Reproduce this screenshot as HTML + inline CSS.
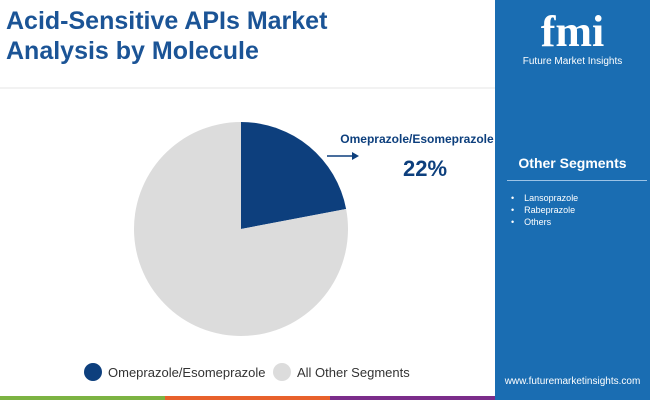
<!DOCTYPE html>
<html><head><meta charset="utf-8"><style>
body{margin:0;width:650px;height:400px;overflow:hidden;background:#fff;font-family:"Liberation Sans",sans-serif;position:relative}
.t{position:absolute;left:6px;top:6px;font-size:25px;font-weight:bold;color:#1b5496;line-height:30px}
.panel{position:absolute;left:495px;top:0;width:155px;height:400px;background:#1a6db2}
</style></head><body>
<div class="t">Acid-Sensitive APIs Market<br>Analysis by Molecule</div>
<svg width="650" height="400" style="position:absolute;left:0;top:0" id="c">
<line x1="0" y1="88" x2="495" y2="88" stroke="#e6e6e6"/>
<g id="pie"></g>
<text x="417" y="143" text-anchor="middle" font-size="12" font-weight="bold" fill="#0d3f7d">Omeprazole/Esomeprazole</text>
<text x="425" y="176" text-anchor="middle" font-size="22" font-weight="bold" fill="#0d3f7d" id="pct"></text>
<line x1="327" y1="156" x2="352" y2="156" stroke="#0d3f7d" stroke-width="1.5"/>
<path d="M352,152 L359,156 L352,160Z" fill="#0d3f7d"/>
<circle cx="93" cy="372" r="9" fill="#0d3f7d"/>
<text x="108" y="377" font-size="13" fill="#333">Omeprazole/Esomeprazole</text>
<circle cx="282" cy="372" r="9" fill="#dcdcdc"/>
<text x="297" y="377" font-size="13" fill="#333">All Other Segments</text>
<rect x="0" y="396" width="165" height="4" fill="#7cb342"/>
<rect x="165" y="396" width="165" height="4" fill="#e8612c"/>
<rect x="330" y="396" width="165" height="4" fill="#7b2d8a"/>
</svg>
<div class="panel">
<div style="position:absolute;top:8px;width:155px;text-align:center;color:#fff;font-size:44px;font-weight:bold;font-family:'Liberation Serif',serif;line-height:48px">fmi</div>
<div style="position:absolute;top:56px;width:155px;text-align:center;color:#fff;font-size:10px">Future Market Insights</div>
<div style="position:absolute;top:155px;width:155px;text-align:center;color:#fff;font-size:14px;font-weight:bold">Other Segments</div>
<div style="position:absolute;top:180px;left:12px;width:140px;height:1px;background:#9cc3e6"></div>
<div style="position:absolute;top:192px;left:16px;color:#fff;font-size:9px;line-height:12px">•&nbsp;&nbsp;&nbsp;&nbsp;Lansoprazole<br>•&nbsp;&nbsp;&nbsp;&nbsp;Rabeprazole<br>•&nbsp;&nbsp;&nbsp;&nbsp;Others</div>
<div style="position:absolute;top:376px;width:155px;text-align:center;color:#fff;font-size:10px">www.futuremarketinsights.com</div>
</div>
<script>
const categories=["Omeprazole/Esomeprazole","All Other Segments"];
const values=[22,78];
const colors=["#0d3f7d","#dcdcdc"];
const cx=241,cy=229,r=107;
const g=document.getElementById('pie');
const tot=values.reduce((a,b)=>a+b,0);
let a0=0;
values.forEach((v,i)=>{
 const a1=a0+v/tot*2*Math.PI;
 const p=(a)=>[cx+r*Math.sin(a),cy-r*Math.cos(a)];
 const [x0,y0]=p(a0),[x1,y1]=p(a1);
 const el=document.createElementNS('http://www.w3.org/2000/svg','path');
 el.setAttribute('d',`M${cx},${cy}L${x0},${y0}A${r},${r} 0 ${a1-a0>Math.PI?1:0} 1 ${x1},${y1}Z`);
 el.setAttribute('fill',colors[i]);
 
 
 g.appendChild(el);
 a0=a1;
});
document.getElementById('pct').textContent=Math.round(values[0]/tot*100)+'%';
</script>
</body></html>
